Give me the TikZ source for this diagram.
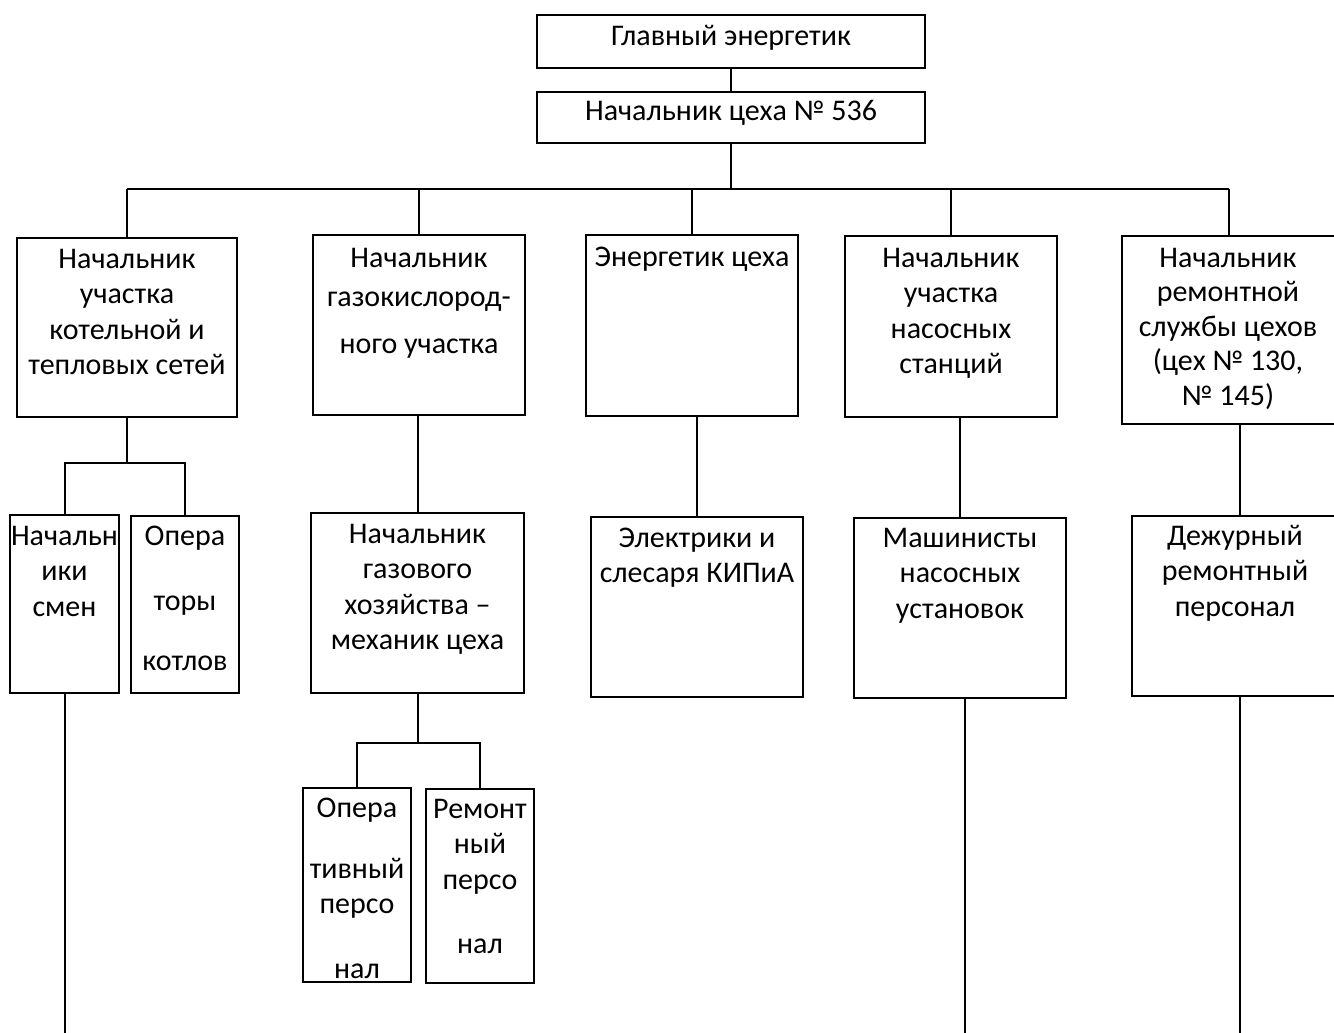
\documentclass[tikz,border=0pt]{standalone}
\usepackage{fontspec}
\setmainfont{Carlito}
\usetikzlibrary{fit}
\newcommand\firststrut{\rule{0pt}{19.5pt}}
\begin{document}
\begin{tikzpicture}[x=0.75pt,y=-0.75pt,
  box/.style={draw, line width=1.1pt, inner sep=0pt},
  txt/.style={anchor=north, align=center, inner sep=0pt, font=\fontsize{22.5}{26.6}\selectfont},
  conn/.style={line width=1.5pt}]
\clip (0,0) rectangle (1334,1032);
\fill[white] (0,0) rectangle (1334,1032);
% boxes
\node[box, fit={(537,15) (925,68)}] (gl) {};
\node[box, fit={(537,92) (925,143)}] (nc) {};
\node[box, fit={(17,238) (237,417)}] (A) {};
\node[box, fit={(313,235) (525,415)}] (B) {};
\node[box, fit={(586,235) (798,416)}] (C) {};
\node[box, fit={(845,236) (1057,417)}] (D) {};
\node[box, fit={(1122,236) (1336,424)}] (E) {};
\node[box, fit={(10,515) (119,693)}] (F) {};
\node[box, fit={(131,516) (239,693)}] (G) {};
\node[box, fit={(311,513) (524,693)}] (H) {};
\node[box, fit={(591,517) (803,697)}] (I) {};
\node[box, fit={(854,518) (1066,698)}] (J) {};
\node[box, fit={(1132,516) (1348,696)}] (K) {};
\node[box, fit={(303,788) (411,982)}] (L) {};
\node[box, fit={(426,789) (534,983)}] (M) {};
% texts
\node[txt] (tgl) at (731,19) {\firststrut Главный энергетик};
\node[txt] (tnc) at (731,94) {\firststrut Начальник цеха № 536};
\node[txt] (tA) at (127,242) {\firststrut Начальник\\участка\\котельной и\\тепловых сетей};
\node[txt] (tB) at (419,241) {\firststrut Начальник\\[2.6pt]газокислород-\\[8.6pt]ного участка};
\node[txt] (tC) at (692,240) {\firststrut Энергетик цеха};
\node[txt] (tD) at (951,241) {\firststrut Начальник\\участка\\насосных\\станций};
\node[txt] (tE) at (1228,241) {\firststrut Начальник\\[-0.7pt]ремонтной\\[-0.7pt]службы цехов\\[-0.7pt](цех № 130,\\[-0.7pt]№ 145)};
\node[txt] (tF) at (64.5,519) {\firststrut Начальн\\ики\\смен};
\node[txt] (tG) at (185,519) {\firststrut Опера\\[22pt]торы\\[18.4pt]котлов};
\node[txt] (tH) at (417.5,517) {\firststrut Начальник\\газового\\хозяйства –\\механик цеха};
\node[txt] (tI) at (697,521) {\firststrut Электрики и\\слесаря КИПиА};
\node[txt] (tJ) at (960,521) {\firststrut Машинисты\\насосных\\установок};
\node[txt] (tK) at (1235,519) {\firststrut Дежурный\\ремонтный\\персонал};
\node[txt] (tL) at (357,791) {\firststrut Опера\\[19.1pt]тивный\\персо\\[22.1pt]нал};
\node[txt] (tM) at (480,792) {\firststrut Ремонт\\ный\\персо\\[21.4pt]нал};
% connectors
\coordinate (bus) at (0,189);
\coordinate (subA) at (0,463);
\coordinate (subH) at (0,743);
\coordinate (bot) at (0,1045);
\draw[conn] (gl.south) -- (nc.north);
\draw[conn] (nc.south) -- (nc.south |- bus);
\draw[conn] (A.north |- bus) -- (E.north |- bus);
\foreach \n in {A,B,C,D,E} \draw[conn] (\n.north |- bus) -- (\n.north);
\draw[conn] (A.south) -- (A.south |- subA);
\draw[conn] (F.north) |- (G.north |- subA) -- (G.north);
\draw[conn] (H.north |- B.south) -- (H.north);
\draw[conn] (I.north |- C.south) -- (I.north);
\draw[conn] (J.north |- D.south) -- (J.north);
\draw[conn] (K.north |- E.south) -- (K.north);
\draw[conn] (H.south) -- (H.south |- subH);
\draw[conn] (L.north) |- (M.north |- subH) -- (M.north);
\draw[conn] (F.south) -- (F.south |- bot);
\draw[conn] ([xshift=3.75pt]J.south) -- ([xshift=3.75pt]J.south |- bot);
\draw[conn] (K.south) -- (K.south |- bot);
\end{tikzpicture}
\end{document}
